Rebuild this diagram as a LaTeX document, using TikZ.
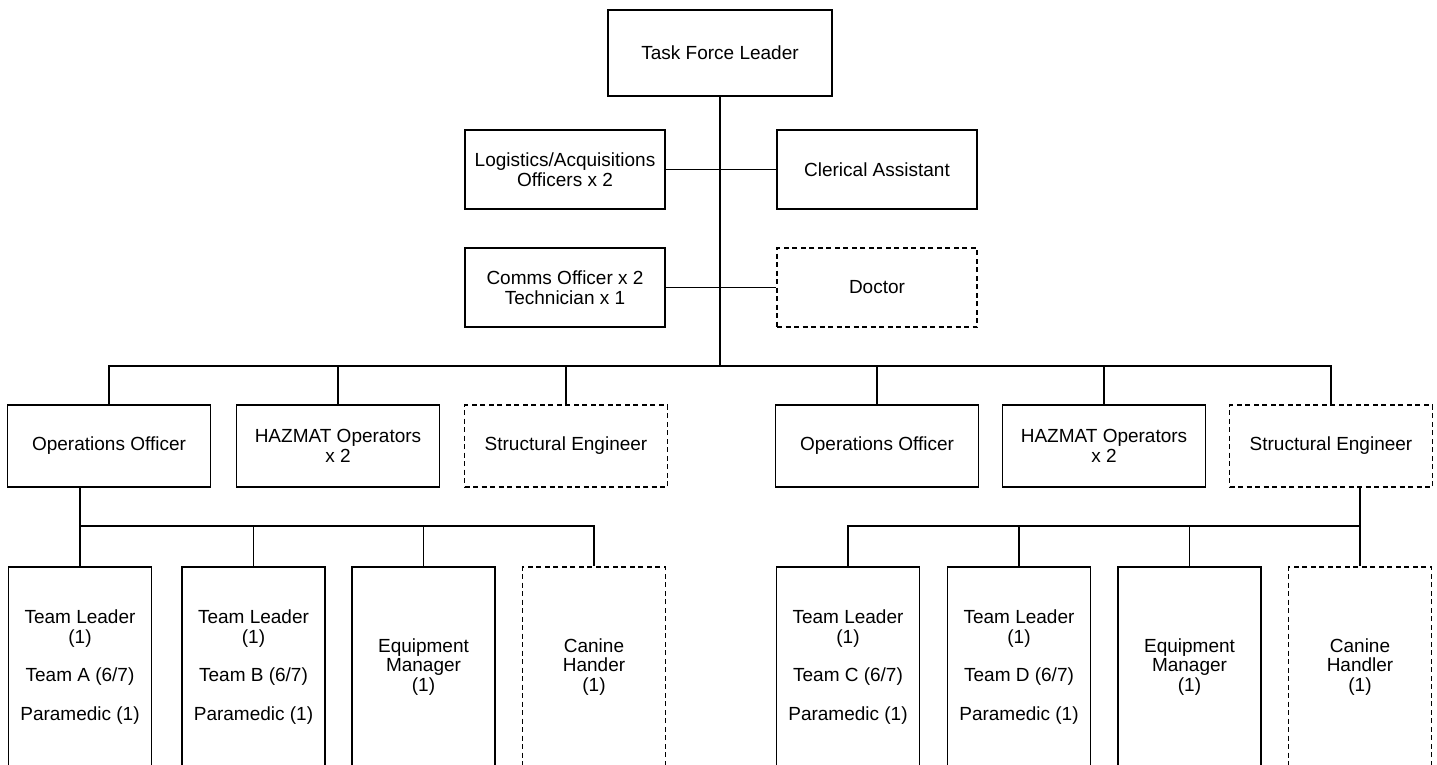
\documentclass[tikz,border=0pt]{standalone}
\usepackage{fontspec}
\setmainfont{Liberation Sans}
\begin{document}
\begin{tikzpicture}[x=1pt,y=-1pt,
  box/.style={draw,line width=1.6pt,align=center,inner sep=0pt,
    font=\fontsize{19}{19.5}\selectfont},
  dbox/.style={box,dash pattern=on 5pt off 3.5pt},
  lnk/.style={line width=1.6pt}]
\useasboundingbox (0,0) rectangle (1437,764);
% top
\node[box,minimum width=224pt,minimum height=86pt] (tfl) at (720,53) {Task Force Leader};
\node[box,minimum width=200pt,minimum height=79pt] (log) at (565,169.5) {Logistics/Acquisitions\\Officers x 2};
\node[box,minimum width=200pt,minimum height=79pt] (cler) at (877,169.5) {Clerical Assistant};
\node[box,minimum width=200pt,minimum height=79pt] (comms) at (565,287.5) {Comms Officer x 2\\Technician x 1};
\node[dbox,minimum width=200pt,minimum height=79pt] (doc) at (877,287.5) {Doctor};
% row 2
\tikzset{r2/.style={minimum width=203pt,minimum height=82pt}}
\node[box,r2] (opsL) at (109,446) {Operations Officer};
\node[box,r2] (hazL) at (338,446) {HAZMAT Operators\\x 2};
\node[dbox,r2] (strL) at (566,446) {Structural Engineer};
\node[box,r2] (opsR) at (877,446) {Operations Officer};
\node[box,r2] (hazR) at (1104,446) {HAZMAT Operators\\x 2};
\node[dbox,r2] (strR) at (1331,446) {Structural Engineer};
% row 3
\tikzset{r3/.style={minimum width=143pt,minimum height=200pt}}
\node[box,r3] (tA) at (80,667) {Team Leader\\(1)\\[19pt]Team A (6/7)\\[19pt]Paramedic (1)};
\node[box,r3] (tB) at (253.5,667) {Team Leader\\(1)\\[19pt]Team B (6/7)\\[19pt]Paramedic (1)};
\node[box,r3] (eqL) at (423.5,667) {Equipment\\Manager\\(1)};
\node[dbox,r3] (canL) at (594,667) {Canine\\Hander\\(1)};
\node[box,r3] (tC) at (848,667) {Team Leader\\(1)\\[19pt]Team C (6/7)\\[19pt]Paramedic (1)};
\node[box,r3] (tD) at (1019,667) {Team Leader\\(1)\\[19pt]Team D (6/7)\\[19pt]Paramedic (1)};
\node[box,r3] (eqR) at (1189.5,667) {Equipment\\Manager\\(1)};
\node[dbox,r3] (canR) at (1360,667) {Canine\\Handler\\(1)};
% connectors
\coordinate (bus) at (720,366);
\draw[lnk] (tfl.south) -- (bus);
\draw[lnk] (log.east) -- (cler.west);
\draw[lnk] (comms.east) -- (doc.west);
\foreach \n in {opsL,hazL,strL,opsR,hazR,strR}
  \draw[lnk] (bus) -| (\n.north);
\coordinate (subL) at (80,526);
\draw[lnk] (opsL.south -| tA.north) -- (tA.north);
\foreach \n in {tB,eqL,canL}
  \draw[lnk] (subL) -| (\n.north);
\coordinate (subR) at (1360,526);
\draw[lnk] (strR.south -| canR.north) -- (canR.north);
\foreach \n in {tC,tD,eqR}
  \draw[lnk] (subR) -| (\n.north);
\end{tikzpicture}
\end{document}
